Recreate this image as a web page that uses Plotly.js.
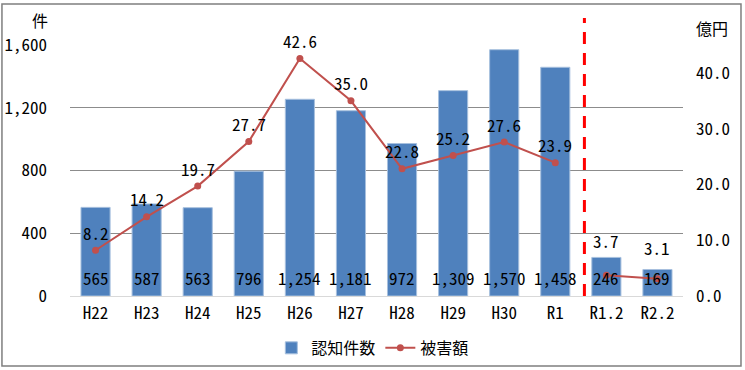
<!DOCTYPE html>
<html><head><meta charset="utf-8">
<script src="https://cdn.plot.ly/plotly-3.0.1.min.js"></script>
<style>html,body{margin:0;padding:0;background:#fff;}#chart{width:745px;height:370px;}</style>
</head><body><div id="chart"></div>
<script>
const categories = ["H22","H23","H24","H25","H26","H27","H28","H29","H30","R1","R1.2","R2.2"];
const cases = [565,587,563,796,1254,1181,972,1309,1570,1458,246,169];
const damage = [8.2,14.2,19.7,27.7,42.6,35.0,22.8,25.2,27.6,23.9,3.7,3.1];
const leftTicks = [0,400,800,1200,1600];
const leftTickText = ["0","400","800","1,200","1,600"];
const rightTicks = [0,10,20,30,40];
const rightTickText = ["0.0","10.0","20.0","30.0","40.0"];
const damageLabelShift = [18,18,18,18,18,18,18,18,18,18,35,31];
const splitAt = 10; // annual series vs. half-year series

const FONT = "'Noto Sans Mono CJK JP', 'Liberation Mono', monospace";
const JFONT = "'Noto Sans CJK JP', sans-serif";

function fmt(n){ return n.toLocaleString('en-US'); }

const lineStyle = {color:'#C0504D', width:2};
const markerStyle = {color:'#C0504D', size:7};
const traces = [
  {type:'bar', name:'認知件数', x:categories, y:cases, marker:{color:'#4F81BD', line:{color:'#A7C0DE', width:1}}, hoverinfo:'skip'},
  {type:'scatter', mode:'lines+markers', name:'被害額', legendgroup:'dmg', x:categories.slice(0,splitAt), y:damage.slice(0,splitAt), yaxis:'y2',
   line:lineStyle, marker:markerStyle, hoverinfo:'skip'},
  {type:'scatter', mode:'lines+markers', name:'被害額', legendgroup:'dmg', showlegend:false, x:categories.slice(splitAt), y:damage.slice(splitAt), yaxis:'y2',
   line:lineStyle, marker:markerStyle, hoverinfo:'skip'}
];

const annotations = [];
categories.forEach((c,i)=>{
  annotations.push({x:c, y:0, xref:'x', yref:'y', text:fmt(cases[i]), showarrow:false, yanchor:'bottom', yshift:4,
    font:{family:FONT, size:17, color:'#000'}});
  annotations.push({x:c, y:damage[i], xref:'x', yref:'y2', text:damage[i].toFixed(1), showarrow:false, yanchor:'middle', yshift:damageLabelShift[i],
    font:{family:FONT, size:17, color:'#000'}});
});
annotations.push({xref:'paper', yref:'paper', x:-0.049, y:1.1, xanchor:'center', yanchor:'middle', text:'件', showarrow:false, font:{family:JFONT, size:16, color:'#000'}});
annotations.push({xref:'paper', yref:'paper', x:1.047, y:1.068, xanchor:'center', yanchor:'middle', text:'億円', showarrow:false, font:{family:JFONT, size:16, color:'#000'}});

const layout = {
  width:745, height:370,
  margin:{l:70, r:62, t:45, b:74, autoexpand:false},
  paper_bgcolor:'#fff', plot_bgcolor:'#fff',
  bargap:0.43,
  showlegend:true,
  legend:{orientation:'h', x:0.494, xanchor:'center', y:-0.207, yanchor:'middle', font:{family:JFONT, size:16, color:'#000'}},
  xaxis:{type:'category', range:[-0.5, categories.length-0.5], automargin:false, tickfont:{family:FONT, size:17, color:'#000'}, showgrid:false, showline:false, ticks:'', zeroline:false, ticklabelstandoff:5},
  yaxis:{automargin:false, range:[0,1600], tickvals:leftTicks, ticktext:leftTickText, tickfont:{family:FONT, size:17, color:'#000'},
    showgrid:true, gridcolor:'#8c8c8c', gridwidth:1, zeroline:true, zerolinecolor:'#d9d9d9', zerolinewidth:1, ticks:'', ticklabelstandoff:22, showline:false},
  yaxis2:{automargin:false, range:[0,45], overlaying:'y', side:'right', tickvals:rightTicks, ticktext:rightTickText, tickfont:{family:FONT, size:17, color:'#000'},
    showgrid:false, zeroline:false, ticks:'', ticklabelstandoff:12, showline:false},
  shapes:[
    {type:'line', xref:'x', yref:'paper', x0:9.57, x1:9.57, y0:0, y1:1.108, line:{color:'#FF0000', width:3, dash:'12px,9px'}},
    {type:'rect', xref:'paper', yref:'paper', x0:-0.111, x1:1.0946, y0:-0.279, y1:1.163, line:{color:'#7f7f7f', width:1.5}}
  ],
  annotations:annotations
};
Plotly.newPlot('chart', traces, layout, {staticPlot:true, displayModeBar:false});
</script></body></html>
